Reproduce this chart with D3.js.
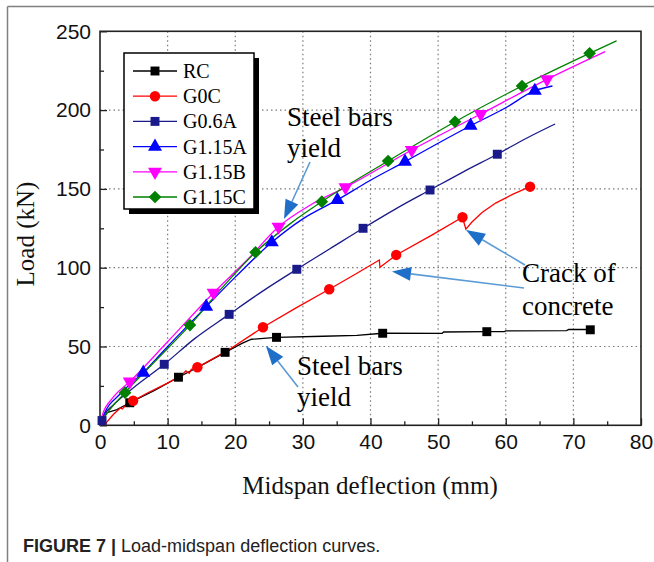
<!DOCTYPE html>
<html>
<head>
<meta charset="utf-8">
<script src="https://cdn.jsdelivr.net/npm/d3@7"></script>
<style>
  html, body { margin: 0; padding: 0; background: #fff; }
  svg { display: block; }
</style>
</head>
<body>
<svg id="chart" width="654" height="562"></svg>
<script>
// Load–midspan deflection readings, [deflection (mm), load (kN)]
const seriesNames = ["RC", "G0C", "G0.6A", "G1.15A", "G1.15B", "G1.15C"];
const seriesColors = ["#000000", "#ff0000", "#1a1a8a", "#0000ff", "#ff00ff", "#008000"];

const rcCurve = [[0,0],[1,8],[2.5,10],[4.4,14.3],[8,22],[11.6,30.5],[15,38],[18.5,46.3],[21,52],[22.4,54.6],[26.1,55.8],[33,56.5],[38,57],[41.8,58.4],[50.6,58.3],[50.8,59.2],[57.2,59.4],[59.8,59.4],[60,59.9],[69,60.1],[69.3,60.8],[72.5,60.8]];
const rcMarks = [[4.4,14.3],[11.6,30.5],[18.5,46.3],[26.1,55.8],[41.8,58.4],[57.2,59.4],[72.5,60.6]];

const g0cCurve = [[0.8,0],[1,2],[2,7],[3,11],[3.3,10.3],[3.8,12.5],[4.9,15.6],[7,20.5],[9.9,26.6],[12,31.5],[12.7,34.5],[13.2,33],[13.5,35.5],[14.4,36.8],[19,47.8],[24.1,62.2],[29,74.5],[33.9,86.3],[38,96.5],[41.3,104.9],[41.4,100.3],[43.8,108.1],[49,120.5],[53.6,132],[54.1,124.4],[55,129],[56.5,135],[58.5,141],[61,146.5],[63.6,151.4]];
const g0cMarks = [[4.9,15.6],[14.4,36.8],[24.1,62.2],[33.9,86.3],[43.8,108.1],[53.6,132],[63.6,151.4]];

const g06aCurve = [[0,0],[0.4,5],[2,13],[5,24],[9.5,38.7],[14,55],[19.1,70.4],[24,85],[29.1,99],[34,112],[38.9,125],[43.8,137.5],[48.8,149.3],[53.8,161],[58.75,172],[63,182],[67.3,191.2]];
const g06aMarks = [[0.3,3],[9.5,38.7],[19.1,70.4],[29.1,99],[38.9,125],[48.8,149.3],[58.75,172]];

const g115aCurve = [[0,0],[0.5,6],[3,20],[6.4,33.4],[10,50],[15.7,75.3],[20,94],[25.4,116.1],[30,131],[35.1,143],[40,155.5],[45.1,167.3],[50,179],[54.8,190.1],[60,201.5],[64.3,212.3],[66.9,215.3]];
const g115aMarks = [[6.4,33.4],[15.7,75.3],[25.4,116.1],[35.1,143],[45.1,167.3],[54.8,190.1],[64.3,212.3]];

const g115bCurve = [[0,0],[0.3,6],[2,18],[4.4,27.7],[10,53],[16.8,84.1],[22,106],[26.4,126],[31,139.5],[36.3,151],[46.1,174.7],[56.3,197.5],[66.1,219.5],[74.7,237.1]];
const g115bMarks = [[4.4,27.7],[16.8,84.1],[26.4,126],[36.3,151],[46.1,174.7],[56.3,197.5],[66.1,219.5]];

const g115cCurve = [[0,0],[0.5,4],[3.7,20.7],[8,40],[13.3,63.6],[18,87],[23,109.8],[28,127.5],[32.8,141.9],[42.6,167.7],[52.5,192.6],[62.4,215.3],[72.4,236],[76.4,244]];
const g115cMarks = [[3.7,20.7],[13.3,63.6],[23,109.8],[32.8,141.9],[42.6,167.7],[52.5,192.6],[62.4,215.3],[72.4,236]];

const xTicks = [0, 10, 20, 30, 40, 50, 60, 70, 80];
const yTicks = [0, 50, 100, 150, 200, 250];
const xMinorTicks = [5, 15, 25, 35, 45, 55, 65, 75];
const yMinorTicks = [25, 75, 125, 175, 225];

const curves = [rcCurve, g0cCurve, g06aCurve, g115aCurve, g115bCurve, g115cCurve];
const marks = [rcMarks, g0cMarks, g06aMarks, g115aMarks, g115bMarks, g115cMarks];
const smooth = [false, false, true, true, true, true];

// marker shape per series: [symbol type, rotation, area]
const markerShapes = [
  [d3.symbolSquare, 0, 80],
  [d3.symbolCircle, 0, 85],
  [d3.symbolSquare, 0, 80],
  [d3.symbolTriangle, 0, 85],
  [d3.symbolTriangle, 180, 85],
  [d3.symbolSquare, 45, 80]
];

const svg = d3.select("#chart");
const plot = { left: 100, top: 31.3, right: 641, bottom: 425.3 };

const x = d3.scaleLinear().domain([0, 80]).range([plot.left, plot.right]);
const y = d3.scaleLinear().domain([0, 250]).range([plot.bottom, plot.top]);

// figure frame
svg.append("line").attr("x1", 7.5).attr("x2", 654).attr("y1", 6.5).attr("y2", 6.5)
  .attr("stroke", "#808080").attr("stroke-width", 1.5);
svg.append("line").attr("x1", 7.5).attr("x2", 7.5).attr("y1", 6.5).attr("y2", 562)
  .attr("stroke", "#808080").attr("stroke-width", 1.5);

// grid
const grid = svg.append("g").attr("stroke", "#7a7a7a").attr("stroke-width", 1.2)
  .attr("stroke-dasharray", "1.5,3");
grid.selectAll(".gx").data(xTicks.slice(1, -1)).join("line")
  .attr("x1", d => x(d)).attr("x2", d => x(d))
  .attr("y1", plot.top).attr("y2", plot.bottom);
grid.selectAll(".gy").data(yTicks.slice(1, -1)).join("line")
  .attr("y1", d => y(d)).attr("y2", d => y(d))
  .attr("x1", plot.left).attr("x2", plot.right);

// axes with inward ticks
const tickFont = "'Liberation Sans', Arial, sans-serif";
svg.append("g").attr("transform", `translate(0,${plot.bottom})`)
  .call(d3.axisBottom(x).tickValues(xTicks).tickSize(-7).tickPadding(9).tickFormat(d3.format("d")));
svg.append("g").attr("transform", `translate(${plot.left},0)`)
  .call(d3.axisLeft(y).tickValues(yTicks).tickSize(-7).tickPadding(9).tickFormat(d3.format("d")));
svg.append("g").attr("transform", `translate(0,${plot.bottom})`)
  .call(d3.axisBottom(x).tickValues(xMinorTicks).tickSize(-4).tickFormat(""));
svg.append("g").attr("transform", `translate(${plot.left},0)`)
  .call(d3.axisLeft(y).tickValues(yMinorTicks).tickSize(-4).tickFormat(""));

svg.selectAll(".domain").remove();
svg.selectAll(".tick line").attr("stroke", "#222").attr("stroke-width", 1.3);
svg.selectAll(".tick text").attr("font-family", tickFont).attr("font-size", 21).attr("fill", "#111");

// plot border
svg.append("rect").attr("x", plot.left).attr("y", plot.top)
  .attr("width", plot.right - plot.left).attr("height", plot.bottom - plot.top)
  .attr("fill", "none").attr("stroke", "#222").attr("stroke-width", 1.6);

// curves
const lineGen = d3.line().x(d => x(d[0])).y(d => y(d[1]));
const plotG = svg.append("g");
curves.forEach((c, i) => {
  plotG.append("path").datum(c)
    .attr("d", lineGen.curve(smooth[i] ? d3.curveMonotoneX : d3.curveLinear))
    .attr("fill", "none").attr("stroke", seriesColors[i]).attr("stroke-width", 1.3);
});

function symbolPath(i) {
  const [type, , size] = markerShapes[i];
  return d3.symbol().type(type).size(size)();
}
marks.forEach((m, i) => {
  plotG.selectAll(null).data(m).join("path")
    .attr("d", symbolPath(i))
    .attr("transform", d => `translate(${x(d[0])},${y(d[1])}) rotate(${markerShapes[i][1]})`)
    .attr("fill", seriesColors[i]);
});

// legend
const serif = "'Liberation Serif', 'Times New Roman', serif";
const legend = svg.append("g");
legend.append("rect").attr("x", 129).attr("y", 58).attr("width", 130).attr("height", 156).attr("fill", "#000");
legend.append("rect").attr("x", 124).attr("y", 53).attr("width", 130).attr("height", 156)
  .attr("fill", "#fff").attr("stroke", "#000").attr("stroke-width", 1.5);
seriesNames.forEach((name, i) => {
  const yy = 71 + i * 25.2;
  legend.append("line").attr("x1", 133).attr("x2", 177).attr("y1", yy).attr("y2", yy)
    .attr("stroke", seriesColors[i]).attr("stroke-width", 1.3);
  legend.append("path").attr("d", symbolPath(i))
    .attr("transform", `translate(155,${yy}) rotate(${markerShapes[i][1]})`)
    .attr("fill", seriesColors[i]);
  legend.append("text").attr("x", 183).attr("y", yy).attr("dy", "0.35em")
    .attr("font-family", serif).attr("font-size", 20).attr("fill", "#000").text(name);
});

// axis titles
svg.append("text").attr("x", 370).attr("y", 494).attr("text-anchor", "middle")
  .attr("font-family", serif).attr("font-size", 25).attr("fill", "#111")
  .text("Midspan deflection (mm)");
svg.append("text").attr("transform", "translate(34,234) rotate(-90)").attr("text-anchor", "middle")
  .attr("font-family", serif).attr("font-size", 25).attr("fill", "#111")
  .text("Load (kN)");

// annotations
const arrowColor = "#5b9bd5";
const headColor = "#1f6fc8";
function arrow(x1, y1, x2, y2) {
  const ang = Math.atan2(y2 - y1, x2 - x1);
  const len = 19, half = 7;
  const bx = x2 - len * Math.cos(ang), by = y2 - len * Math.sin(ang);
  svg.append("line").attr("x1", x1).attr("y1", y1).attr("x2", bx).attr("y2", by)
    .attr("stroke", arrowColor).attr("stroke-width", 1.6);
  const px = -Math.sin(ang) * half, py = Math.cos(ang) * half;
  svg.append("path")
    .attr("d", `M${x2},${y2}L${bx + px},${by + py}L${bx - px},${by - py}Z`)
    .attr("fill", headColor);
}
function label(lines, x0, y0, gap) {
  lines.forEach((t, k) => {
    svg.append("text").attr("x", x0).attr("y", y0 + k * gap)
      .attr("font-family", serif).attr("font-size", 27).attr("fill", "#000").text(t);
  });
}
label(["Steel bars", "yield"], 287, 126, 31);
arrow(310, 162, 284, 219);
label(["Crack of", "concrete"], 522, 282, 33);
arrow(525, 265, 466, 230);
arrow(524, 288, 392, 271.5);
label(["Steel bars", "yield"], 297, 375, 31);
arrow(298, 387, 266, 346);

// caption
const cap = svg.append("text").attr("x", 23).attr("y", 552)
  .attr("font-family", tickFont).attr("font-size", 18).attr("fill", "#222");
cap.append("tspan").attr("font-weight", "bold").text("FIGURE 7 | ");
cap.append("tspan").text("Load-midspan deflection curves.");
</script>
</body>
</html>
